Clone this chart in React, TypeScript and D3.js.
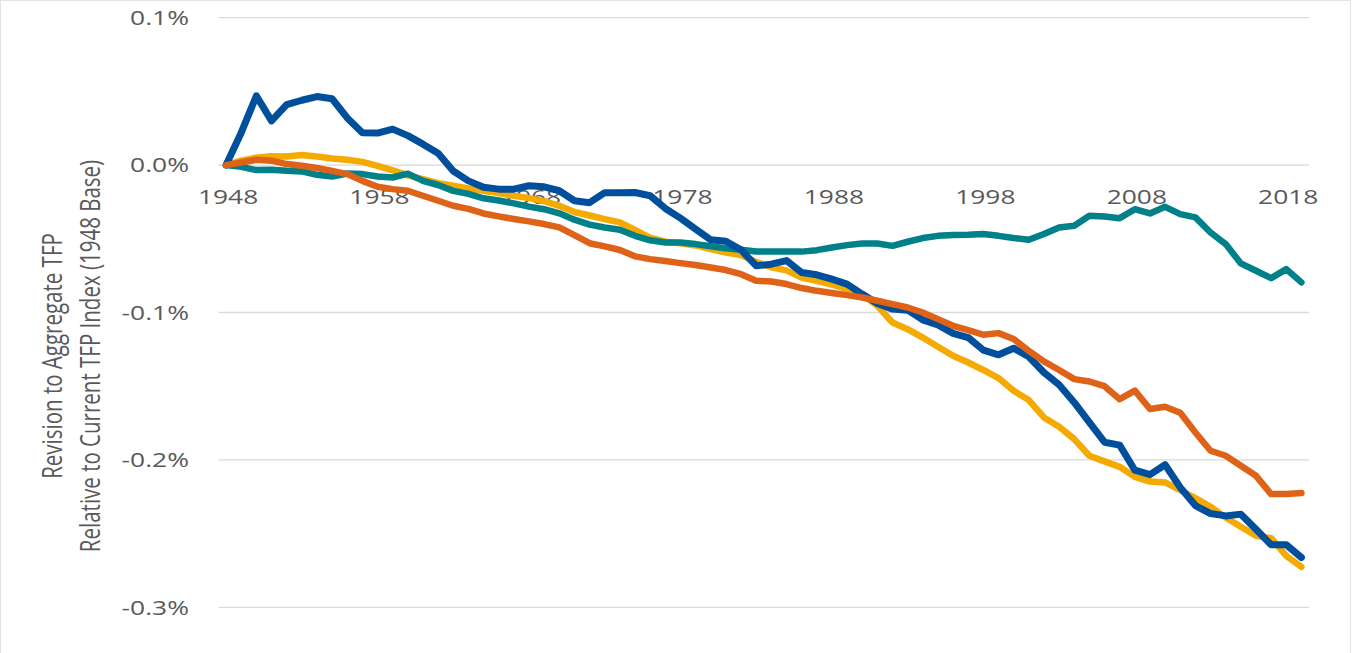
import * as React from "react";
import * as d3 from "d3";

// years on the category axis
const years: number[] = d3.range(1948, 2020);
const tickYears = [1948, 1958, 1968, 1978, 1988, 1998, 2008, 2018];
const yTicks = [0.1, 0, -0.1, -0.2, -0.3];

// revision values, in percent
const blueSeries = [
  0, 0.022, 0.047, 0.03, 0.041, 0.044, 0.0465, 0.045, 0.032, 0.022,
  0.0217, 0.0244, 0.02, 0.0142, 0.008, -0.004, -0.0107, -0.015, -0.0163, -0.0163,
  -0.014, -0.0147, -0.0174, -0.0242, -0.0255, -0.0187, -0.0188, -0.0186, -0.0208, -0.0294,
  -0.036, -0.0434, -0.0507, -0.0517, -0.0575, -0.0683, -0.0672, -0.0648, -0.0729, -0.0744,
  -0.0774, -0.0807, -0.0875, -0.0939, -0.0977, -0.0984, -0.105, -0.1085, -0.1142, -0.117,
  -0.1255, -0.1287, -0.1242, -0.13, -0.1407, -0.149, -0.161, -0.1746, -0.188, -0.19,
  -0.207, -0.21, -0.2033, -0.2187, -0.231, -0.2364, -0.238, -0.2368, -0.247, -0.2576,
  -0.2576, -0.2662,
];
const orangeSeries = [
  0, 0.0018, 0.0036, 0.003, 0.0007, -0.0005, -0.002, -0.0039, -0.0061, -0.0107,
  -0.0147, -0.0163, -0.0174, -0.0208, -0.0242, -0.0276, -0.0297, -0.0328, -0.0348, -0.0366,
  -0.0382, -0.04, -0.0423, -0.0475, -0.053, -0.0551, -0.0576, -0.0619, -0.0638, -0.065,
  -0.0665, -0.0678, -0.0695, -0.0712, -0.074, -0.0785, -0.079, -0.0807, -0.0834, -0.0853,
  -0.0868, -0.0882, -0.0898, -0.092, -0.0943, -0.0966, -0.1, -0.1045, -0.109, -0.112,
  -0.1151, -0.114, -0.118, -0.126, -0.1332, -0.139, -0.1452, -0.1468, -0.15, -0.1588,
  -0.153, -0.1655, -0.164, -0.168, -0.1814, -0.1938, -0.1972, -0.204, -0.2108, -0.2232,
  -0.2232, -0.2225,
];
const yellowSeries = [
  0, 0.003, 0.005, 0.006, 0.0058, 0.0068, 0.0058, 0.0045, 0.0036, 0.0022,
  -0.0005, -0.0035, -0.007, -0.0095, -0.0123, -0.014, -0.0158, -0.0175, -0.019, -0.0208,
  -0.0224, -0.0245, -0.0276, -0.0318, -0.0342, -0.0366, -0.0389, -0.044, -0.0493, -0.052,
  -0.053, -0.0545, -0.057, -0.0593, -0.061, -0.0658, -0.0693, -0.0714, -0.0763, -0.0785,
  -0.081, -0.0841, -0.0875, -0.0955, -0.1068, -0.1113, -0.117, -0.1232, -0.1294, -0.1339,
  -0.139, -0.1445, -0.1531, -0.1594, -0.1712, -0.1775, -0.1859, -0.1972, -0.201, -0.2047,
  -0.2115, -0.2147, -0.2153, -0.2205, -0.2259, -0.2318, -0.2391, -0.2454, -0.2515, -0.2531,
  -0.2651, -0.2725,
];
const tealSeries = [
  0, -0.0012, -0.0034, -0.0032, -0.0039, -0.0043, -0.0066, -0.0077, -0.0057, -0.0061,
  -0.0077, -0.0084, -0.0058, -0.0107, -0.0135, -0.0175, -0.0195, -0.0225, -0.024, -0.026,
  -0.0282, -0.0299, -0.0327, -0.037, -0.0404, -0.0423, -0.0438, -0.048, -0.051, -0.0525,
  -0.0525, -0.0536, -0.0551, -0.0565, -0.0574, -0.0586, -0.0587, -0.0587, -0.0587, -0.0577,
  -0.0559, -0.0543, -0.0532, -0.0532, -0.0548, -0.052, -0.0495, -0.048, -0.0475, -0.0473,
  -0.0468, -0.048, -0.0495, -0.0507, -0.0468, -0.0423, -0.0412, -0.0344, -0.0349, -0.036,
  -0.0299, -0.0328, -0.0283, -0.0333, -0.0355, -0.0457, -0.0536, -0.0667, -0.0717, -0.0767,
  -0.0706, -0.0796,
];

const W = 1354;
const H = 653;
const STRETCH = 1.32; // the source image is stretched sideways
const FONT = "'Open Sans', 'Noto Sans', sans-serif";

function drawChart(svgRef: React.RefObject<SVGSVGElement>) {
  const svg = d3.select(svgRef.current);
  svg.selectAll("*").remove();
  svg.attr("width", W).attr("height", H).style("background", "#fff");

  // frame
  svg
    .append("rect")
    .attr("x", 0.5)
    .attr("y", 0.5)
    .attr("width", 1350)
    .attr("height", H + 5)
    .attr("fill", "none")
    .attr("stroke", "#e3e3e3");

  // scales: categories sit between tick marks like Excel
  const xScale = d3.scaleLinear().domain([1947.5, 2019.5]).range([218.5, 1309]);
  const yScale = d3.scaleLinear().domain([-0.3, 0.1]).range([607.3, 17.7]);

  // gridlines
  svg
    .append("g")
    .selectAll("line")
    .data(yTicks)
    .join("line")
    .attr("x1", xScale(1947.5))
    .attr("x2", xScale(2019.5))
    .attr("y1", (d) => yScale(d))
    .attr("y2", (d) => yScale(d))
    .attr("stroke", "#d9d9d9")
    .attr("stroke-width", 1.3);

  // y tick labels (plain hyphen, like the source)
  svg
    .append("g")
    .selectAll("text")
    .data(yTicks)
    .join("text")
    .attr("transform", (d) => `translate(189,${yScale(d)}) scale(${STRETCH},1)`)
    .attr("dy", "0.36em")
    .attr("text-anchor", "end")
    .style("font-family", FONT)
    .style("font-size", "20px")
    .attr("fill", "#595959")
    .text((d) => d.toFixed(1) + "%");

  // x tick labels, hung off the zero line
  svg
    .append("g")
    .selectAll("text")
    .data(tickYears)
    .join("text")
    .attr("transform", (d) => `translate(${xScale(d) + 2},${yScale(0) + 39}) scale(${STRETCH},1)`)
    .attr("text-anchor", "middle")
    .style("font-family", FONT)
    .style("font-size", "20px")
    .attr("fill", "#595959")
    .text((d) => d);

  // axis title, two lines
  const titleLines = ["Revision to Aggregate TFP", "Relative to Current TFP Index (1948 Base)"];
  svg
    .append("g")
    .selectAll("text")
    .data(titleLines)
    .join("text")
    .attr("transform", (d, i) => `translate(${62 + i * 38},356) scale(${STRETCH},1) rotate(-90)`)
    .attr("text-anchor", "middle")
    .style("font-family", FONT)
    .style("font-size", "20.5px")
    .attr("fill", "#595959")
    .text((d) => d);

  // lines (drawing order: last one on top)
  const series = [
    { values: yellowSeries, color: "#F4AA00", width: 6.5 },
    { values: tealSeries, color: "#00818A", width: 6.5 },
    { values: blueSeries, color: "#004F9C", width: 7 },
    { values: orangeSeries, color: "#DE6218", width: 6.5 },
  ];

  const line = d3
    .line<number>()
    .x((d, i) => xScale(years[i]))
    .y((d) => yScale(d));

  svg
    .append("g")
    .selectAll("path")
    .data(series)
    .join("path")
    .attr("d", (s) => line(s.values))
    .attr("fill", "none")
    .attr("stroke", (s) => s.color)
    .attr("stroke-width", (s) => s.width)
    .attr("stroke-linejoin", "round")
    .attr("stroke-linecap", "round");
}

const App: React.FunctionComponent = () => {
  const svg = React.useRef<SVGSVGElement>(null);
  React.useEffect(() => {
    drawChart(svg);
  }, [svg]);

  return (
    <div style={{ position: "absolute", left: 0, top: 0 }}>
      <svg ref={svg} style={{ display: "block" }} />
    </div>
  );
};

export default App;
